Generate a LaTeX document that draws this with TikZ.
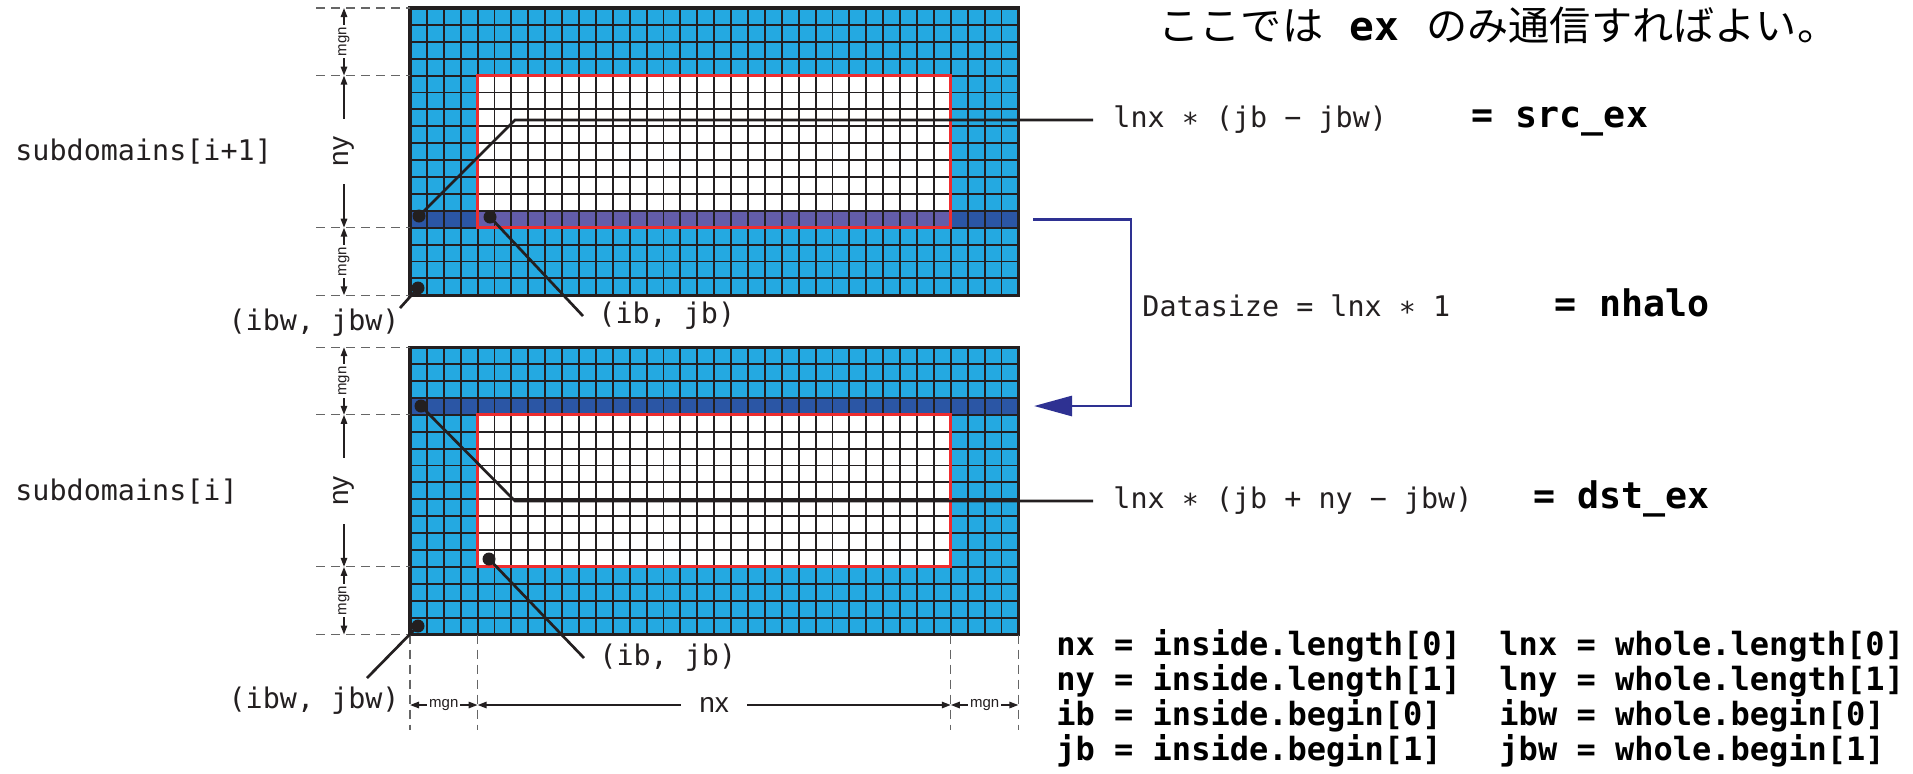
\documentclass[tikz,border=0pt]{standalone}
\usepackage{fontspec}
\setmonofont{DejaVu Sans Mono}
\newfontfamily\jpfont{Noto Sans CJK JP}
\newfontfamily\dimfont{Liberation Sans}
\usepackage{xcolor}
\usetikzlibrary{arrows.meta,positioning}

\definecolor{halocyan}{HTML}{24A9E1}
\definecolor{bandblue}{HTML}{2B56A5}
\definecolor{bandpurple}{HTML}{635DAA}
\definecolor{innerred}{HTML}{EE2D2F}
\definecolor{inkgray}{HTML}{231F20}
\definecolor{sendblue}{HTML}{2E3192}

\begin{document}
\begin{tikzpicture}[x=0.5pt, y=-0.5pt,
    gridline/.style={draw=inkgray, line width=0.95pt},
    frame/.style={draw=inkgray, line width=1.7pt},
    inner/.style={draw=innerred, line width=1.5pt},
    guide/.style={draw=black!60, line width=0.55pt, dash pattern=on 4.5pt off 3pt},
    dim/.style={draw=inkgray, line width=0.85pt,
      {Triangle[length=4.5pt,width=3.2pt]}-{Triangle[length=4.5pt,width=3.2pt]}},
    small/.style={font=\dimfont\fontsize{7.5}{8}\selectfont, text=inkgray, fill=white, inner sep=1pt},
    big/.style={font=\dimfont\fontsize{14}{15}\selectfont, text=inkgray, fill=white, inner xsep=9pt, inner ysep=1pt},
    dot/.style={circle, fill=inkgray, inner sep=0pt, minimum size=6.5pt},
    leader/.style={draw=inkgray, line width=1.35pt},
    code/.style={font=\ttfamily\fontsize{14.2}{16}\selectfont, text=inkgray, inner sep=0pt},
    result/.style={font=\ttfamily\bfseries\fontsize{18.3}{20}\selectfont, text=black, inner sep=0pt},
    legend/.style={font=\ttfamily\bfseries\fontsize{16}{18}\selectfont, text=black, inner sep=0pt},
    halo/.style={draw=sendblue, line width=1.4pt, -{Triangle[length=19pt,width=10pt]}}]
  \useasboundingbox (0,0) rectangle (1913,773);

  \begin{scope}[shift={(410,8)}, x=8.45pt, y=-8.45pt]
    \fill[halocyan] (0,0) rectangle (36,17);
    \fill[white] (4,4) rectangle (32,13);
    \fill[bandblue] (0,12) rectangle (36,13);
    \fill[bandpurple] (4,12) rectangle (32,13);
  \end{scope}
  \begin{scope}[shift={(410,347.2)}, x=8.45pt, y=-8.45pt]
    \fill[halocyan] (0,0) rectangle (36,17);
    \fill[white] (4,4) rectangle (32,13);
    \fill[bandblue] (0,3) rectangle (36,4);
  \end{scope}
  \foreach \gy in {8,347.2} {
    \begin{scope}[shift={(410,\gy)}, x=8.45pt, y=-8.45pt]
      \foreach \i in {0,...,36} \draw[gridline] (\i,0) -- (\i,17);
      \foreach \j in {0,...,17} \draw[gridline] (0,\j) -- (36,\j);
      \draw[inner] (4,4) rectangle (32,13);
      \draw[frame] (0,0) rectangle (36,17);
    \end{scope}
  }

  \foreach \gy in {8,75.6,227.7,295.3,347.2,414.8,566.9,634.5}
    \draw[guide] (316,\gy) -- (410,\gy);
  \foreach \gx in {410,477.6,950.8,1018.4}
    \draw[guide] (\gx,634.5) -- (\gx,730);

  \draw[dim] (344,8) -- node[small, rotate=90] (umgnA) {mgn} (344,75.6);
  \draw[dim] (344,75.6) -- node[big, rotate=90] (uny) {ny} (344,227.7);
  \draw[dim] (344,227.7) -- node[small, rotate=90] (umgnB) {mgn} (344,295.3);
  \draw[dim] (344,347.2) -- node[small, rotate=90] (lmgnA) {mgn} (344,414.8);
  \draw[dim] (344,414.8) -- node[big, rotate=90] (lny) {ny} (344,566.9);
  \draw[dim] (344,566.9) -- node[small, rotate=90] (lmgnB) {mgn} (344,634.5);
  \draw[dim] (410,705) -- node[small] (xmgnA) {mgn} (477.6,705);
  \draw[dim] (477.6,705) -- node[big] (xnx) {nx} (950.8,705);
  \draw[dim] (950.8,705) -- node[small] (xmgnB) {mgn} (1018.4,705);

  \node[code, anchor=base west] (upname) at (15,160) {subdomains[i+1]};
  \node[code, anchor=base west] (loname) at (15,500) {subdomains[i]};

  \node[dot] (srcdot) at (419,216) {};
  \node[dot] (ibdotup) at (490,217) {};
  \node[dot] (ibwdotup) at (418,288) {};
  \node[dot] (dstdot) at (421,406) {};
  \node[dot] (ibdotlo) at (489,559) {};
  \node[dot] (ibwdotlo) at (418,626) {};

  \coordinate (srcbend) at (515,120);
  \coordinate (dstbend) at (515,501);
  \coordinate (ibwlotip) at (367,678);

  \node[code, anchor=west, inner xsep=10pt] (srclbl) at (1093,120) {lnx ∗ (jb − jbw)};
  \node[code, anchor=west, inner xsep=10pt] (dstlbl) at (1093,501) {lnx ∗ (jb + ny − jbw)};
  \node[code, anchor=west, inner xsep=7.5pt] (ibup) at (583,316) {(ib, jb)};
  \node[code, anchor=west, inner xsep=7.5pt] (iblo) at (584,658) {(ib, jb)};
  \node[code, anchor=base east] (ibwup) at (400,330) {(ibw, jbw)};
  \node[code, anchor=base east] (ibwlo) at (400,708) {(ibw, jbw)};

  \draw[leader] (srcdot.center) -- (srcbend) -- (srclbl.west);
  \draw[leader] (dstdot.center) -- (dstbend) -- (dstlbl.west);
  \draw[leader] (ibdotup.center) -- (ibup.west);
  \draw[leader] (ibdotlo.center) -- (iblo.west);
  \draw[leader] (ibwdotup.center) -- (ibwup.north east);
  \draw[leader] (ibwdotlo.center) -- (ibwlotip);

  \node[result, base right=32pt of srclbl] (srcres) {= src\_ex};
  \node[result, base right=20pt of dstlbl] (dstres) {= dst\_ex};

  \coordinate (sendpt) at (1033,219.6);
  \coordinate (turn) at (1131,313);
  \coordinate (recvpt) at (1034,406);
  \draw[halo] (sendpt) -| (turn) |- (recvpt);
  \node[code, anchor=west] (sizelbl) at (1142,306) {Datasize = lnx ∗ 1};
  \node[result, base right=52pt of sizelbl] (sizeres) {= nhalo};

  \node[anchor=base west, inner sep=0pt, text=black, font=\jpfont\fontsize{20}{22}\selectfont] (note) at (1158,40)
    {\scalebox{1.03}[1]{ここでは\hspace{13pt}{\ttfamily\bfseries ex}\hspace{13pt}のみ通信すればよい。}};

  \foreach \k/\row in {0/{nx = inside.length[0]~~lnx = whole.length[0]},
                       1/{ny = inside.length[1]~~lny = whole.length[1]},
                       2/{ib = inside.begin[0]~~~ibw = whole.begin[0]},
                       3/{jb = inside.begin[1]~~~jbw = whole.begin[1]}}
    \node[legend, anchor=base west] (key\k) at (1056,655+35.3*\k) {\row};
\end{tikzpicture}
\end{document}
